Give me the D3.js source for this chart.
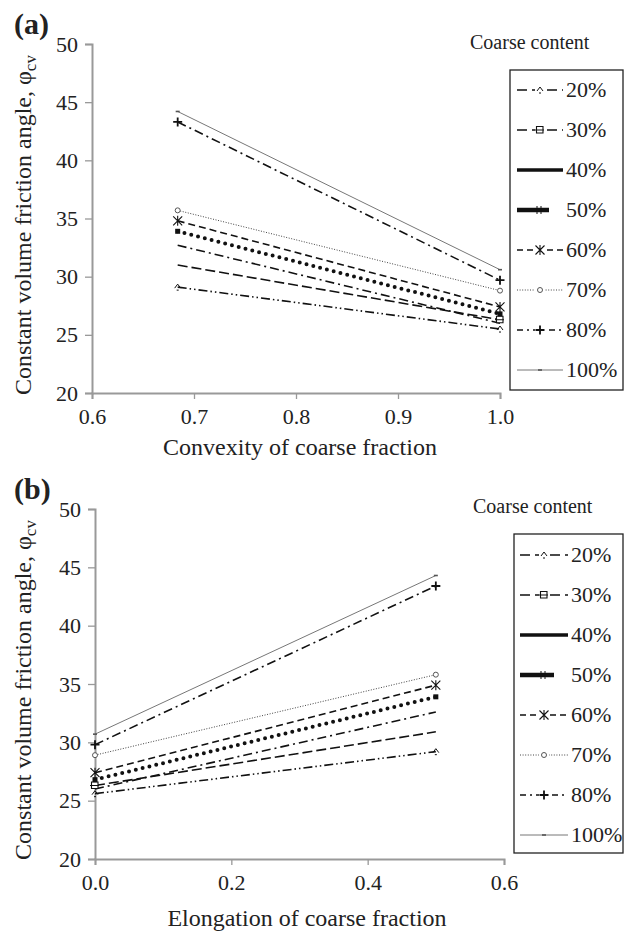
<!DOCTYPE html>
<html><head><meta charset="utf-8">
<script src="https://cdn.jsdelivr.net/npm/d3@7"></script>
<style>body{margin:0;background:#fff}svg{display:block}svg text{font-family:"Liberation Serif","Times New Roman",serif !important;fill:#222}</style>
</head><body><div id="chart"></div>
<script>
// ---- data ----
const seriesNames = ["20%","30%","40%","50%","60%","70%","80%","100%"];
const convexityX = [0.684, 1.0];
const convexityVals = [
  [29.1, 25.5],
  [31.0, 26.3],
  [32.7, 26.0],
  [33.9, 26.8],
  [34.8, 27.4],
  [35.7, 28.8],
  [43.3, 29.7],
  [44.2, 30.6]
];
const elongationX = [0.0, 0.5];
const elongationVals = [
  [25.6, 29.2],
  [26.3, 30.9],
  [26.0, 32.6],
  [26.8, 33.9],
  [27.4, 34.9],
  [28.9, 35.8],
  [29.8, 43.4],
  [30.7, 44.3]
];
const yTicks = [20,25,30,35,40,45,50];
const xTicksA = [0.6,0.7,0.8,0.9,1.0];
const xTicksB = [0.0,0.2,0.4,0.6];

// ---- styles ----
const FONT = "Liberation Serif";
const styles = {
  "20%": {dash:"9,3,1.5,3,1.5,3", w:1.6, color:"#111", marker:"diamond", legDash:"10,5", legW:1.6},
  "30%": {dash:"10,4", w:1.6, color:"#111", marker:"square", onlyLowShape:true, legDash:"10,5", legW:1.6},
  "40%": {dash:"9,4,2,4", w:1.6, color:"#111", marker:null, legDash:null, legW:3.5},
  "50%": {dash:"0,7", w:4, color:"#111", marker:"fsquare", cap:"round", legDash:null, legW:4.5},
  "60%": {dash:"7,4", w:1.6, color:"#111", marker:"asterisk", legDash:"6,4", legW:1.6},
  "70%": {dash:"1,1.6", w:1, color:"#444", marker:"circle", legDash:"1,1.6", legW:1},
  "80%": {dash:"9,4,2,4", w:1.6, color:"#111", marker:"plus", legDash:"6,4,2,4", legW:1.6},
  "100%": {dash:null, w:1, color:"#777", marker:"tick", legDash:null, legW:1}
};

const W = 625, H = 931;
const svg = d3.select("#chart").append("svg").attr("width", W).attr("height", H)
  .attr("font-family", FONT);

function marker(g, type, x, y, color) {
  if (!type) return;
  const m = g.append("g").attr("transform", `translate(${x},${y})`);
  if (type === "diamond") {
    m.append("path").attr("d", "M-3,1L0,-3L3,1").attr("fill","none").attr("stroke","#111").attr("stroke-width",1);
    m.append("path").attr("d", "M-1,3L1,3").attr("stroke","#111").attr("stroke-width",1);
  } else if (type === "square") {
    m.append("path").attr("d", "M-3.5,-3.5H3V3H-3.5Z M-5,0H4").attr("fill","#fff").attr("stroke","#111").attr("stroke-width",1.1);
  } else if (type === "fsquare") {
    m.append("rect").attr("x",-2.5).attr("y",-2.5).attr("width",5).attr("height",5).attr("fill","#111");
  } else if (type === "asterisk") {
    m.append("path").attr("d","M-4.5,-4.5L4.5,4.5M-4.5,4.5L4.5,-4.5M0,-5V5").attr("stroke","#111").attr("stroke-width",1.1);
  } else if (type === "circle") {
    m.append("circle").attr("r",2.5).attr("fill","#fff").attr("stroke","#555").attr("stroke-width",1);
  } else if (type === "plus") {
    m.append("path").attr("d","M-4.5,0H4.5M0,-4.5V4.5").attr("stroke","#111").attr("stroke-width",1.8);
  } else if (type === "tick") {
    m.append("path").attr("d","M-2,0H2").attr("stroke","#555").attr("stroke-width",1.6);
  }
}

function panel(cfg) {
  const g = svg.append("g");
  const x = d3.scaleLinear().domain(cfg.xDomain).range([cfg.left, cfg.right]);
  const y = d3.scaleLinear().domain([20,50]).range([cfg.bottom, cfg.top]);

  const yAxis = g.append("g").attr("transform", `translate(${cfg.left},0)`)
    .call(d3.axisLeft(y).tickValues(yTicks).tickSize(7).tickPadding(7).tickFormat(d3.format("d")));
  const xAxis = g.append("g").attr("transform", `translate(0,${cfg.bottom})`)
    .call(d3.axisBottom(x).tickValues(cfg.xTicks).tickSize(6).tickPadding(9).tickFormat(d3.format(".1f")));
  [yAxis, xAxis].forEach(a => {
    a.attr("font-family", FONT).attr("font-size", 22);
    a.select(".domain").attr("stroke","#999").attr("stroke-width",2);
    a.selectAll(".tick line").attr("stroke","#999").attr("stroke-width",1.3);
    a.selectAll("text").attr("fill","#222");
  });

  const line = d3.line().x(d => x(d[0])).y(d => y(d[1]));
  seriesNames.forEach((name, i) => {
    const st = styles[name];
    const pts = cfg.xs.map((xv, j) => [xv, cfg.vals[i][j]]);
    g.append("path").attr("d", line(pts)).attr("fill","none")
      .attr("stroke", st.color).attr("stroke-width", st.w)
      .attr("stroke-dasharray", st.dash)
      .attr("stroke-linecap", st.cap || "butt");
  });
  seriesNames.forEach((name, i) => {
    const st = styles[name];
    cfg.xs.forEach((xv, j) => {
      // square marker only shows at the lower-value end of the 30% line
      if (st.onlyLowShape && cfg.vals[i][j] !== d3.min(cfg.vals[i])) return;
      marker(g, st.marker, x(xv), y(cfg.vals[i][j]), st.color);
    });
  });

  // panel label
  g.append("text").attr("x", 14).attr("y", cfg.top - 10).attr("font-size", 30).attr("font-weight","bold").text(cfg.tag);

  // y label
  const yl = g.append("text")
    .attr("transform", `translate(31,${cfg.ylabY}) rotate(-90)`)
    .attr("text-anchor","middle").attr("font-size",24);
  yl.append("tspan").text("Constant volume friction angle, φ");
  yl.append("tspan").attr("font-size",17).attr("dy",5).text("cv");

  // x label
  g.append("text").attr("x", cfg.xlabX).attr("y", cfg.xlabY).attr("text-anchor","middle")
    .attr("font-size",24).text(cfg.xlabel);

  // legend
  g.append("text").attr("x", cfg.legTitleX).attr("y", cfg.legTitleY).attr("font-size",20).text("Coarse content");
  g.append("rect").attr("x", cfg.legBox[0]).attr("y", cfg.legBox[1])
    .attr("width", cfg.legBox[2]-cfg.legBox[0]).attr("height", cfg.legBox[3]-cfg.legBox[1])
    .attr("fill","none").attr("stroke","#222").attr("stroke-width",1.3);
  const legY = d3.scalePoint().domain(seriesNames).range([cfg.legFirstY, cfg.legLastY]);
  seriesNames.forEach(name => {
    const st = styles[name];
    const ly = legY(name);
    const x2 = name === "50%" ? cfg.legX1 - 14 : cfg.legX1;
    g.append("line").attr("x1", cfg.legX0).attr("x2", x2).attr("y1", ly).attr("y2", ly)
      .attr("stroke", st.color).attr("stroke-width", st.legW).attr("stroke-dasharray", st.legDash);
    const mid = (cfg.legX0 + x2) / 2 + (name === "50%" ? 6 : 0);
    if (name === "50%") {
      g.append("path").attr("d", `M${mid-2},${ly-4}V${ly+4}M${mid+2},${ly-4}V${ly+4}`).attr("stroke","#111").attr("stroke-width",1);
    } else if (st.marker) {
      if (st.marker !== "tick") g.append("rect").attr("x", mid-5).attr("y", ly-5).attr("width",10).attr("height",10).attr("fill","#fff");
      marker(g, st.marker, mid, ly, st.color);
    }
    g.append("text").attr("x", cfg.legTextX).attr("y", ly + 7).attr("font-size",22).text(name);
  });
}

panel({
  tag:"(a)", xDomain:[0.6,1.0], xTicks:xTicksA, xs:convexityX, vals:convexityVals,
  left:92, right:500, top:44, bottom:393,
  ylabY:225, xlabX:300, xlabY:455, xlabel:"Convexity of coarse fraction",
  legTitleX:470, legTitleY:49, legBox:[510,70,623,390],
  legFirstY:90, legLastY:370, legX0:517, legX1:563, legTextX:566
});
panel({
  tag:"(b)", xDomain:[0.0,0.6], xTicks:xTicksB, xs:elongationX, vals:elongationVals,
  left:95, right:504, top:509, bottom:859,
  ylabY:690, xlabX:307, xlabY:926, xlabel:"Elongation of coarse fraction",
  legTitleX:473, legTitleY:513, legBox:[514,534,623,853],
  legFirstY:555, legLastY:835, legX0:520, legX1:568, legTextX:571
});
</script>
</body></html>
